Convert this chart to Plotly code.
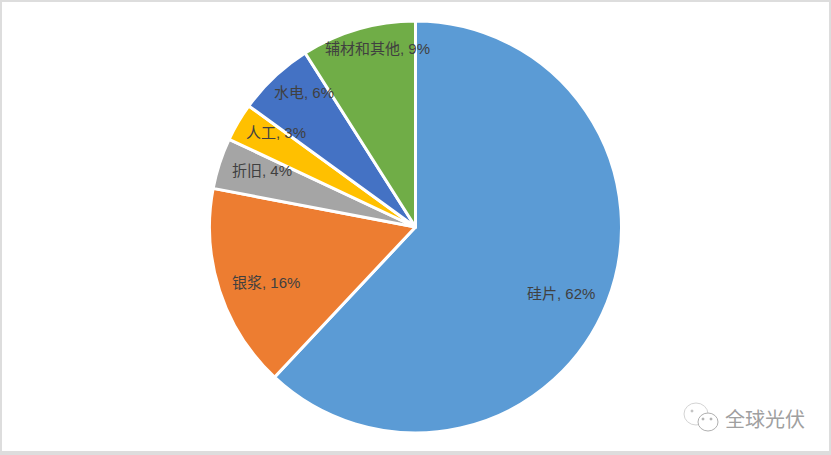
import math
import plotly.graph_objects as go

categories = ["硅片", "银浆", "折旧", "人工", "水电", "辅材和其他"]
values = [62, 16, 4, 3, 6, 9]
colors = ["#5B9BD5", "#ED7D31", "#A5A5A5", "#FFC000", "#4472C4", "#70AD47"]
watermark = "全球光伏"

W, H = 831, 455
CX, CY, R = 415.5, 227, 206
# radial position of each label as a fraction of the radius, plus small pixel nudges
label_radius = [0.78, 0.77, 0.76, 0.81, 0.86, 0.89]
label_nudge_x = [-4, 1, -5, 4, 10, 13]
label_nudge_y = [7, 6, -8, -10, -5, -2]

fig = go.Figure(go.Pie(
    labels=categories,
    values=values,
    sort=False,
    direction="clockwise",
    rotation=0,
    textinfo="none",
    hoverinfo="label+percent",
    marker=dict(colors=colors, line=dict(color="#FFFFFF", width=3)),
    domain=dict(x=[(CX - R) / W, (CX + R) / W], y=[1 - (CY + R) / H, 1 - (CY - R) / H]),
    showlegend=False,
))

annotations = []
total = sum(values)
cum = 0
for i, (c, v) in enumerate(zip(categories, values)):
    a = 2 * math.pi * (cum + v / 2) / total
    cum += v
    px = CX + R * label_radius[i] * math.sin(a) + label_nudge_x[i]
    py = CY - R * label_radius[i] * math.cos(a) + label_nudge_y[i]
    annotations.append(dict(
        x=px / W, y=1 - py / H, xref="paper", yref="paper", showarrow=False,
        text=f"{c}, {round(100 * v / total)}%",
        font=dict(family="Liberation Sans, Noto Sans CJK SC, sans-serif", size=15, color="#404040"),
        xanchor="center", yanchor="middle",
    ))

annotations.append(dict(
    x=764.5 / W, y=1 - 418 / H, xref="paper", yref="paper", showarrow=False,
    text=watermark,
    font=dict(family="Noto Sans CJK SC, sans-serif", size=20, color="#a0a0a0"),
    xanchor="center", yanchor="middle",
))


def circle(x0, y0, x1, y1, fill="#FFFFFF", line="#bdbdbd"):
    return dict(type="circle", xref="paper", yref="paper", x0=x0 / W, x1=x1 / W,
                y0=1 - y1 / H, y1=1 - y0 / H, line=dict(color=line, width=1), fillcolor=fill,
                layer="above")


shapes = [
    dict(type="rect", xref="paper", yref="paper", x0=2 / W, x1=829 / W, y0=1 - 451 / H, y1=1 - 2 / H,
         fillcolor="#FFFFFF", line=dict(width=0), layer="below"),
    circle(684, 403, 708, 425, line="#d4d4d4"),
    circle(698, 413, 718, 431, line="#b0b0b0"),
    circle(691, 410, 693, 412, fill="#c0c0c0", line="#c0c0c0"),
    circle(702, 418, 704, 420, fill="#b0b0b0", line="#b0b0b0"),
    circle(710, 418, 712, 420, fill="#b0b0b0", line="#b0b0b0"),
]

fig.update_layout(
    width=W, height=H, autosize=False,
    margin=dict(l=0, r=0, t=0, b=0),
    paper_bgcolor="#DDDDDD",
    shapes=shapes,
    annotations=annotations,
)
fig.write_html("out.html", config=dict(displayModeBar=False),
               post_script="document.documentElement.style.overflow='hidden';document.body.style.margin='0';")
